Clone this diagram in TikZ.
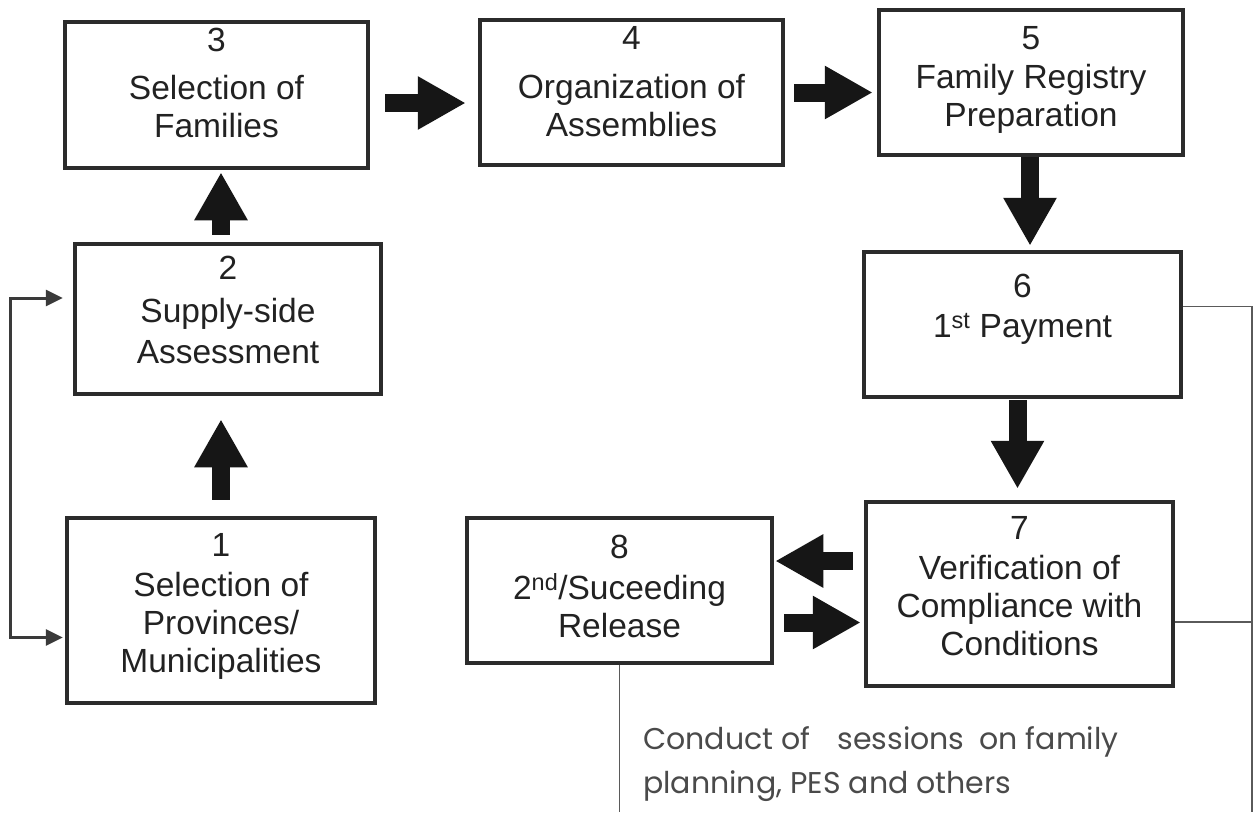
\documentclass[tikz,border=0pt]{standalone}
\usepackage{fontspec}
\setmainfont{Liberation Sans}
\newfontfamily\gothic{Poppins}
\usetikzlibrary{arrows.meta,calc}
\definecolor{boxc}{HTML}{2B2B2B}
\definecolor{txtc}{HTML}{222222}
\definecolor{arrc}{HTML}{161616}
\definecolor{linec}{HTML}{3A3A3A}
\definecolor{thinc}{HTML}{5A5A5A}
\definecolor{notec}{HTML}{4A4A4A}
\tikzset{
  box/.style={draw=boxc, line width=4.5pt, inner sep=0pt, text=txtc,
    font=\fontsize{33.5}{38}\selectfont},
  fat/.style={draw=arrc, line width=18pt, -{Triangle[length=48pt,width=50pt]}},
  bracket/.style={draw=linec, line width=3pt,
    {Triangle[length=17pt,width=16pt]}-{Triangle[length=17pt,width=16pt]}},
  thinline/.style={draw=thinc, line width=1.6pt},
  note/.style={font=\gothic\fontsize{30}{44}\selectfont, text=notec, align=left,
    anchor=north west, inner sep=0pt}
}
% name, x1, y1, x2, y2, top gap, number, extra gap after number, text
\newcommand\flowbox[9]{%
  \pgfmathsetmacro\fbW{#4-#2}%
  \pgfmathsetmacro\fbH{#5-#3}%
  \node[box, minimum width=\fbW pt, minimum height=\fbH pt] (#1)
    at ({(#2+#4)/2},{(#3+#5)/2})
    {\parbox[c][\fbH pt][t]{\fbW pt}{\centering\vspace*{#6pt}#7\\[#8pt]#9\par}};%
}
\begin{document}
\begin{tikzpicture}[x=1pt,y=-1pt]
\useasboundingbox[fill=white] (0,0) rectangle (1256,812);
\coordinate (bot) at (0,812);

\flowbox{b3}{65}{22}{368}{168}{6}{3}{10}{Selection of\\Families}
\flowbox{b4}{480}{20}{783}{165}{6}{4}{11}{Organization of\\Assemblies}
\flowbox{b5}{879}{10}{1183}{155}{16}{5}{1}{Family Registry\\Preparation}
\flowbox{b2}{75}{244}{381}{394}{12}{2}{5}{Supply-side\\[3pt]Assessment}
\flowbox{b6}{864}{252}{1181}{397}{22}{6}{2}{1\textsuperscript{st} Payment}
\flowbox{b1}{67}{518}{375}{703}{15}{1}{2}{Selection of\\Provinces/\\Municipalities}
\flowbox{b8}{467}{518}{772}{663}{17}{8}{3}{2\textsuperscript{nd}/Suceeding\\Release}
\flowbox{b7}{866}{502}{1173}{686}{14}{7}{2}{Verification of\\Compliance with\\Conditions}

% fat arrows
\coordinate (s34) at ($(b3.east)+(15pt,-8pt)$);
\draw[fat] (s34) -- ($(s34 -| b4.west)+(-12pt,0)$);
\coordinate (s45) at ($(b4.east)+(9pt,0)$);
\draw[fat] (s45) -- ($(s45 -| b5.west)+(-4pt,0)$);
\coordinate (s56) at ($(b5.south)+(-1pt,0)$);
\draw[fat] (s56) -- ($(s56 |- b6.north)+(0,4pt)$);
\coordinate (s67) at ($(b6.south)+(-5pt,-1pt)$);
\draw[fat] (s67) -- ($(s67 |- b7.north)+(0,11pt)$);
\coordinate (s23) at ($(b2.north)+(-7pt,7pt)$);
\draw[fat] (s23) -- ($(s23 |- b3.south)+(0,-2pt)$);
\coordinate (s12) at ($(b1.north)+(0,16pt)$);
\draw[fat] (s12) -- ($(s12 |- b2.south)+(0,-23pt)$);
\coordinate (s78) at ($(b7.west)+(-11pt,33pt)$);
\draw[fat] (s78) -- ($(s78 -| b8.east)+(1pt,0)$);
\coordinate (s87) at ($(b8.east)+(10pt,-32pt)$);
\draw[fat] (s87) -- ($(s87 -| b7.west)+(-3pt,0)$);

% left bracket
\coordinate (p2) at ($(b2.west)+(-10pt,21pt)$);
\coordinate (p1) at ($(b1.west)+(-2pt,-27pt)$);
\draw[bracket] (p2) -- ++(-52pt,0) |- (p1);

% right thin lines
\coordinate (r6) at ($(b6.east)+(0,18pt)$);
\coordinate (rc) at ($(r6)+(69pt,0)$);
\coordinate (r7) at ($(b7.east)+(0,-28pt)$);
\draw[thinline] (r6) -- (rc) -- (rc |- bot);
\draw[thinline] (r7) -- (r7 -| rc);
\draw[thinline] (b8.south) -- (b8.south |- bot);

\node[note] (note) at (643,726)
  {Conduct of\hspace{0.9em}sessions\hspace{0.5em}on family\\planning, PES and others};
\end{tikzpicture}
\end{document}
